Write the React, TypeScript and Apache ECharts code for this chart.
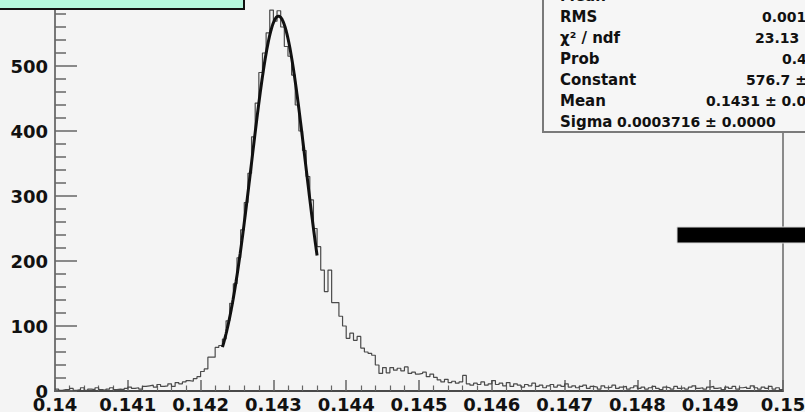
import React, { useEffect, useRef } from "react";
import * as echarts from "echarts";

// Histogram binning: 200 bins of 0.00005 between 0.14 and 0.15
const BIN_LOW = 0.14;
const BIN_WIDTH = 0.00005;
const COUNTS = [
  3, 1, 2, 2, 4, 1, 2, 5, 1, 3,
  2, 5, 2, 1, 3, 5, 2, 3, 2, 4,
  6, 4, 5, 3, 7, 8, 9, 6, 10, 7,
  8, 11, 7, 13, 11, 14, 16, 15, 19, 22,
  30, 34, 52, 52, 67, 70, 80, 108, 135, 165,
  205, 248, 290, 335, 391, 443, 490, 520, 551, 586,
  569, 585, 560, 530, 515, 486, 440, 400, 370, 330,
  294, 250, 222, 186, 153, 186, 136, 136, 115, 100,
  81, 89, 78, 84, 66, 60, 58, 55, 40, 27,
  36, 28, 36, 32, 35, 31, 37, 27, 29, 26,
  27, 29, 22, 26, 21, 17, 14, 18, 13, 15,
  12, 14, 24, 11, 9, 12, 10, 14, 9, 11,
  16, 10, 12, 8, 13, 7, 11, 9, 6, 10,
  8, 12, 7, 9, 5, 8, 10, 6, 9, 7,
  11, 6, 8, 5, 7, 9, 4, 7, 6, 3,
  8, 5, 6, 9, 4, 6, 7, 3, 5, 8,
  4, 6, 3, 5, 7, 4, 2, 6, 5, 3,
  7, 4, 5, 3, 6, 8, 4, 5, 3, 6,
  7, 4, 5, 2, 6, 4, 7, 3, 5, 6,
  4, 8, 5, 3, 6, 4, 7, 3, 5, 2,
];

// Gaussian fit parameters and the range the fit was performed over
const FIT_CONSTANT = 576.7;
const FIT_MEAN = 0.14307;
const FIT_SIGMA = 0.0003716;
const FIT_RANGE = [0.1423, 0.1436];
const FIT_SAMPLES = 160;

// Statistics box rows
const STAT_LABELS = ["Mean", "RMS", "χ² / ndf", "Prob", "Constant", "Mean", "Sigma"];
const STAT_VALUES = [
  "",
  "0.001",
  "23.13",
  "0.4",
  `${FIT_CONSTANT.toFixed(1)} ±`,
  `${FIT_MEAN.toFixed(4)} ± 0.0`,
  `${FIT_SIGMA.toFixed(7)} ± 0.0000`,
];
const STAT_VALUE_X = [0, 762, 755, 782, 746, 706, 617];

const X_MIN = 0.14;
const X_MAX = 0.15;
const X_STEP = 0.001;
const Y_MAX = 615;
const Y_STEP = 100;

function gauss(x: number) {
  const z = (x - FIT_MEAN) / FIT_SIGMA;
  return FIT_CONSTANT * Math.exp(-0.5 * z * z);
}

export default function App() {
  const ref = useRef<HTMLDivElement>(null);

  useEffect(() => {
    if (!ref.current) return;
    const chart = echarts.init(ref.current, null, { renderer: "svg" });

    const histPoints: [number, number][] = COUNTS.map((c, i) => [BIN_LOW + i * BIN_WIDTH, c]);
    histPoints.push([BIN_LOW + COUNTS.length * BIN_WIDTH, COUNTS[COUNTS.length - 1]]);

    const fitPoints: [number, number][] = [];
    for (let k = 0; k <= FIT_SAMPLES; k++) {
      const x = FIT_RANGE[0] + ((FIT_RANGE[1] - FIT_RANGE[0]) * k) / FIT_SAMPLES;
      fitPoints.push([x, gauss(x)]);
    }

    const axisFont = {
      fontFamily: "DejaVu Sans",
      fontWeight: "bold" as const,
      fontSize: 18,
      color: "#111",
    };

    const rowY0 = -4.5;
    const rowStep = 21;
    const statTexts: any[] = [];
    STAT_LABELS.forEach((label, i) => {
      const y = rowY0 + i * rowStep;
      statTexts.push({
        type: "text",
        z: 20,
        x: 560,
        y,
        style: {
          text: label,
          fill: "#111",
          fontFamily: "DejaVu Sans",
          fontWeight: "bold",
          fontSize: 15,
          verticalAlign: "middle",
        },
      });
      if (STAT_VALUES[i]) {
        statTexts.push({
          type: "text",
          z: 20,
          x: STAT_VALUE_X[i],
          y,
          style: {
            text: STAT_VALUES[i],
            fill: "#111",
            fontFamily: "DejaVu Sans",
            fontWeight: "bold",
            fontSize: 14,
            verticalAlign: "middle",
          },
        });
      }
    });

    chart.setOption({
      animation: false,
      backgroundColor: "#f4f4f4",
      grid: {
        left: 55,
        right: 22,
        bottom: 21,
        top: -8.75,
        show: true,
        borderColor: "#8a8a8a",
        borderWidth: 2,
        backgroundColor: "transparent",
        outerBoundsMode: "none",
      },
      xAxis: {
        type: "value",
        min: X_MIN,
        max: X_MAX,
        interval: X_STEP,
        axisLine: { show: true, onZero: false, lineStyle: { color: "#333", width: 1.5 } },
        axisTick: { show: true, inside: true, length: 11, lineStyle: { color: "#666", width: 1.5 } },
        minorTick: { show: true, splitNumber: 5, length: 5.5, lineStyle: { color: "#666", width: 1.2 } },
        splitLine: { show: false },
        axisLabel: {
          ...axisFont,
          margin: 4,
          formatter: (v: number) => String(Number(v.toFixed(3))),
        },
      },
      yAxis: {
        type: "value",
        min: 0,
        max: Y_MAX,
        interval: Y_STEP,
        axisLine: { show: true, lineStyle: { color: "#777", width: 2 } },
        axisTick: { show: true, inside: true, length: 22, lineStyle: { color: "#666", width: 1.5 } },
        minorTick: { show: true, splitNumber: 5, length: 11, lineStyle: { color: "#666", width: 1.5 } },
        splitLine: { show: false },
        axisLabel: {
          ...axisFont,
          margin: 7,
          showMaxLabel: false,
          formatter: (v: number) => (v % Y_STEP === 0 ? String(v) : ""),
        },
      },
      series: [
        {
          type: "line",
          data: histPoints,
          step: "end",
          showSymbol: false,
          lineStyle: { color: "#4a4a4a", width: 1.2 },
          z: 2,
        },
        {
          type: "line",
          data: fitPoints,
          showSymbol: false,
          lineStyle: { color: "#111", width: 3 },
          z: 3,
        },
      ],
      graphic: [
        {
          type: "rect",
          z: 10,
          shape: { x: -4, y: -12, width: 248, height: 21 },
          style: { fill: "#b4f7dc", stroke: "#111", lineWidth: 2 },
        },
        {
          type: "rect",
          z: 10,
          shape: { x: 543, y: -12, width: 300, height: 144 },
          style: { fill: "#f6f6f6", stroke: "#7a7a7a", lineWidth: 2 },
        },
        ...statTexts,
        {
          type: "rect",
          z: 10,
          shape: { x: 677, y: 227, width: 140, height: 16 },
          style: { fill: "#000", stroke: "#d8d8d8", lineWidth: 1 },
        },
      ],
    });

    return () => chart.dispose();
  }, []);

  return (
    <div
      ref={ref}
      style={{ position: "absolute", left: 0, top: 0, width: 805, height: 412 }}
    />
  );
}
